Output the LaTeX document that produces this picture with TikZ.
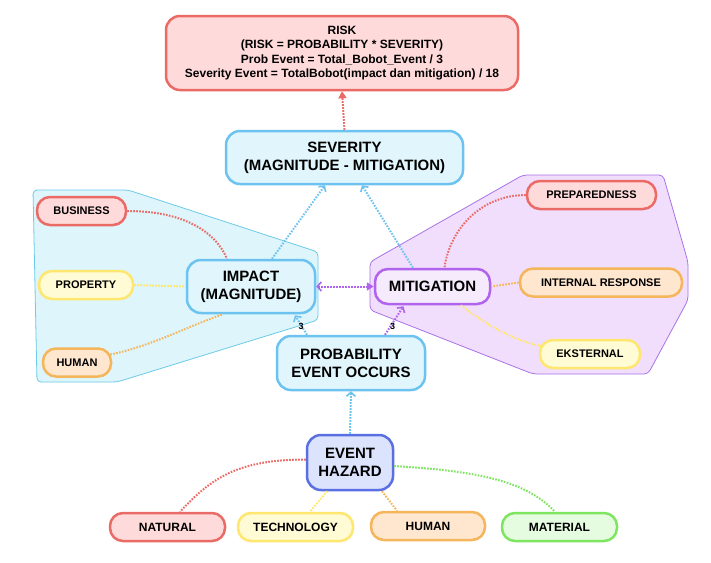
\documentclass[tikz,border=0pt]{standalone}
\usepackage{fontspec}
\setmainfont{Liberation Sans}
\usetikzlibrary{arrows.meta,calc}
\definecolor{redS}{HTML}{EA6B66}\definecolor{redF}{HTML}{FFDADA}
\definecolor{blueS}{HTML}{6CC3F0}\definecolor{blueF}{HTML}{E1F6FC}
\definecolor{yelS}{HTML}{FFE66E}\definecolor{yelF}{HTML}{FFFBD4}
\definecolor{oraS}{HTML}{F5B55A}\definecolor{oraF}{HTML}{FFE7CF}
\definecolor{greS}{HTML}{7DE55F}\definecolor{greF}{HTML}{E5FCE0}
\definecolor{purS}{HTML}{B063EC}\definecolor{purF}{HTML}{F6EAFD}
\definecolor{evS}{HTML}{5A6FE3}\definecolor{evF}{HTML}{DCE3FC}
\definecolor{lpolyF}{HTML}{DDF5FB}\definecolor{lpolyS}{HTML}{6CCBE8}
\definecolor{rpolyF}{HTML}{F1DEFC}\definecolor{rpolyS}{HTML}{A873E8}
\tikzset{
  box/.style={draw, rounded corners=14pt, line width=2.5pt, align=center, inner sep=0pt,
    font=\bfseries\fontsize{15}{18}\selectfont},
  pill/.style={draw, rounded corners=13pt, line width=2.5pt, align=center, inner sep=0pt,
    minimum height=28pt, font=\bfseries\fontsize{11}{13}\selectfont},
  link/.style={line width=2pt, dash pattern=on 1.6pt off 1.4pt},
  opentip/.style={-{Straight Barb[length=4pt,width=9pt,line width=1.6pt]}},
  filltip/.style={-{Triangle[length=7pt,width=8pt]}},
  num/.style={font=\bfseries\fontsize{9}{10}\selectfont, inner sep=0pt},
  zone/.style={line width=0.8pt, rounded corners=4pt}
}
\begin{document}
\begin{tikzpicture}[x=1pt,y=-1pt]
\useasboundingbox[fill=white] (0,0) rectangle (711,562);
% zones
\draw[zone, fill=lpolyF, draw=lpolyS] (33,190) -- (128,190) -- (318,252) -- (318,320) -- (117,382) -- (37,382) -- cycle;
\draw[zone, fill=rpolyF, draw=rpolyS] (523,175) -- (663,175) -- (688,262) -- (688,300) -- (648,374) -- (533,374) -- (370,310) -- (370,262) -- cycle;
% main nodes
\node[box, fill=redF, draw=redS, minimum width=352pt, minimum height=74pt,
  font=\bfseries\fontsize{12}{14.5}\selectfont] (risk) at (342,53)
  {RISK\\(RISK = PROBABILITY * SEVERITY)\\Prob Event = Total\_Bobot\_Event / 3\\Severity Event = TotalBobot(impact dan mitigation) / 18};
\node[box, fill=blueF, draw=blueS, minimum width=237pt, minimum height=53pt] (sev) at (344.5,157.5) {SEVERITY\\(MAGNITUDE - MITIGATION)};
\node[box, fill=blueF, draw=blueS, minimum width=128pt, minimum height=53pt] (imp) at (251,286.5) {IMPACT\\(MAGNITUDE)};
\node[box, fill=purF, draw=purS, minimum width=115pt, minimum height=35pt, rounded corners=13pt] (mit) at (432.5,286.5) {MITIGATION};
\node[box, fill=blueF, draw=blueS, minimum width=148pt, minimum height=54pt] (prob) at (351,363) {PROBABILITY\\EVENT OCCURS};
\node[box, fill=evF, draw=evS, minimum width=86pt, minimum height=55pt] (ev) at (350,462.5) {EVENT\\HAZARD};
% left leaves
\node[pill, fill=redF, draw=redS, minimum width=89pt] (bus) at (81.5,211) {BUSINESS};
\node[pill, fill=yelF, draw=yelS, minimum width=94pt] (prop) at (86,285) {PROPERTY};
\node[pill, fill=oraF, draw=oraS, minimum width=68pt] (huml) at (77,362.5) {HUMAN};
% right leaves
\node[pill, fill=redF, draw=redS, minimum width=129pt] (prep) at (591.5,195) {PREPAREDNESS};
\node[pill, fill=oraF, draw=oraS, minimum width=162pt] (int) at (601,282.5) {INTERNAL RESPONSE};
\node[pill, fill=yelF, draw=yelS, minimum width=100pt] (eks) at (590,354) {EKSTERNAL};
% bottom leaves
\node[pill, fill=redF, draw=redS, minimum width=115pt, font=\bfseries\fontsize{12}{14}\selectfont] (nat) at (167.5,527) {NATURAL};
\node[pill, fill=yelF, draw=yelS, minimum width=115pt, font=\bfseries\fontsize{12}{14}\selectfont] (tech) at (295.5,527) {TECHNOLOGY};
\node[pill, fill=oraF, draw=oraS, minimum width=114pt, font=\bfseries\fontsize{12}{14}\selectfont] (humb) at (428,526) {HUMAN};
\node[pill, fill=greF, draw=greS, minimum width=115pt, font=\bfseries\fontsize{12}{14}\selectfont] (mat) at (559.5,527) {MATERIAL};
% arrows
\draw[link, redS, filltip] (sev.north) -- (risk.south);
\draw[link, blueS, opentip] ($(imp.north)+(21,0)$) -- ($(sev.south)+(-19.5,0)$);
\draw[link, blueS, opentip] ($(mit.north)+(-19.5,0)$) -- ($(sev.south)+(17.5,0)$);
\draw[link, purS, {Straight Barb[length=4pt,width=9pt,line width=1.6pt]}-{Triangle[length=7pt,width=8pt]}] (imp.east) -- (mit.west);
\draw[link, blueS, opentip] ($(prob.north)+(-44,0)$) -- ($(imp.south)+(44,1)$);
\draw[link, purS, opentip] ($(prob.north)+(34,0)$) -- ($(mit.south)+(-29,1)$);
\node[num] (n1) at ($(imp.south)+(50,12)$) {3};
\node[num] (n2) at ($(mit.south)+(-40,21)$) {3};
\draw[link, blueS, opentip] (ev.north) -- (prob.south);
% curves
\draw[link, redS] (bus.east) .. controls +(55,0) and +(-12,-28) .. ($(imp.north)+(-24,0)$);
\draw[link, yelS] (prop.east) -- (imp.west);
\draw[link, oraS] ($(huml.east)+(-2,-8)$) .. controls +(40,-8) and +(-35,12) .. ($(imp.south)+(-28,0)$);
\draw[link, redS] (prep.west) .. controls +(-45,0) and +(5,-38) .. ($(mit.north)+(12,0)$);
\draw[link, oraS] (int.west) -- (mit.east);
\draw[link, yelS] ($(eks.west)+(3,-8)$) .. controls +(-30,-5) and +(20,15) .. ($(mit.south)+(28,0)$);
\draw[link, redS] ($(ev.west)+(0,-3)$) .. controls +(-70,0) and +(30,-32) .. ($(nat.north)+(12.5,0)$);
\draw[link, yelS] ($(ev.south)+(-23,0)$) -- ($(tech.north)+(14.5,0)$);
\draw[link, oraS] ($(ev.south)+(32,0)$) -- ($(humb.north)+(-31,0)$);
\draw[link, greS] ($(ev.east)+(0,3.5)$) .. controls +(80,5) and +(-30,-32) .. ($(mat.north)+(-4.5,0)$);
\end{tikzpicture}
\end{document}
